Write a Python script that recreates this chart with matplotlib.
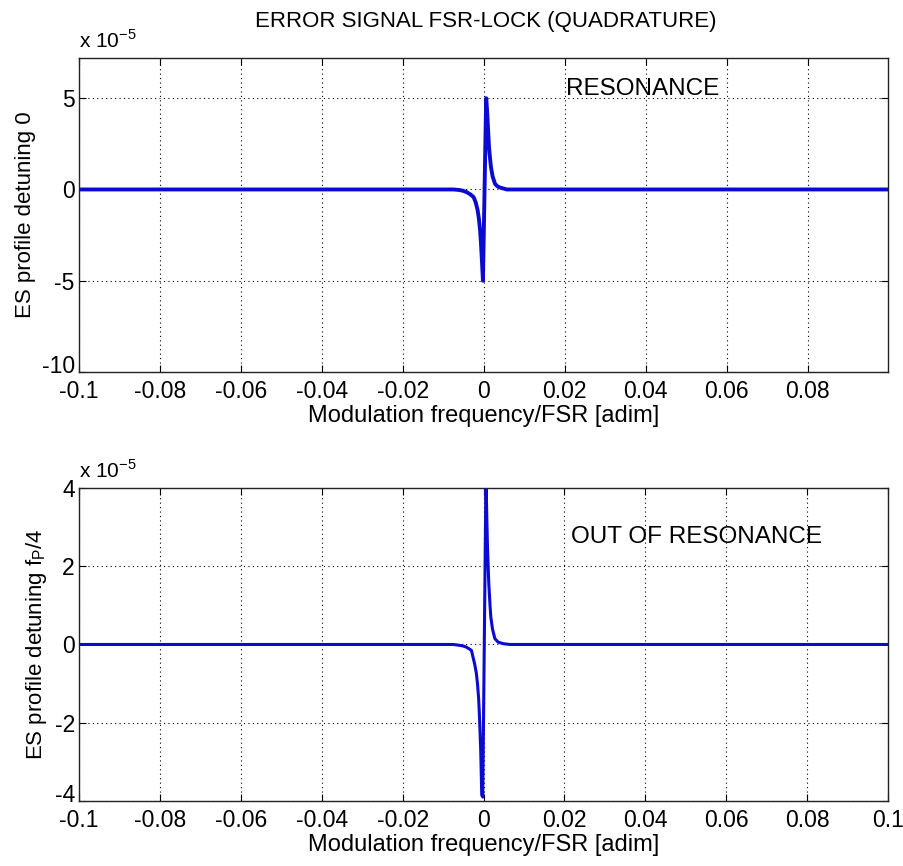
import numpy as np
import matplotlib.pyplot as plt
import matplotlib.transforms as mtransforms

plt.rcParams['font.family'] = ['Liberation Sans', 'DejaVu Sans']
plt.rcParams['mathtext.fontset'] = 'custom'
plt.rcParams['mathtext.rm'] = 'Liberation Sans'

# === Data (y in units of 1e-5) ===
x_res = [-0.1, -0.0075, -0.006, -0.005, -0.0042, -0.0033, -0.0025, -0.002,
         -0.0015, -0.0012, -0.0009, -0.0007, -0.00045, -0.0002,
         0.0006, 0.0008, 0.00095, 0.0013, 0.0016, 0.0018, 0.0022, 0.0028,
         0.0034, 0.0041, 0.0057, 0.0999]
y_res = [0.0, 0.0, -0.03, -0.08, -0.15, -0.27, -0.42, -0.7,
         -1.15, -1.6, -2.25, -2.9, -3.9, -5.0,
         5.0, 4.4, 3.8, 2.3, 1.6, 1.2, 0.7, 0.3,
         0.17, 0.1, 0.0, 0.0]

x_out = [-0.1, -0.0075, -0.006, -0.005, -0.0042, -0.003, -0.0022, -0.0018,
         -0.0015, -0.0012, -0.001, -0.0007, -0.00045, -0.0002,
         0.0006, 0.0008, 0.001, 0.0013, 0.0016, 0.0018, 0.0022, 0.0028,
         0.0036, 0.0049, 0.0065, 0.1]
y_out = [0.0, 0.0, -0.02, -0.04, -0.07, -0.15, -0.5, -0.72,
         -1.0, -1.4, -1.86, -2.7, -3.85, -3.9,
         4.3, 3.25, 2.4, 1.55, 1.0, 0.7, 0.4, 0.15,
         0.06, 0.02, 0.0, 0.0]

xticks_top = [-0.1, -0.08, -0.06, -0.04, -0.02, 0, 0.02, 0.04, 0.06, 0.08]
xticks_bot = [-0.1, -0.08, -0.06, -0.04, -0.02, 0, 0.02, 0.04, 0.06, 0.08, 0.1]
xticklabels_top = ['-0.1', '-0.08', '-0.06', '-0.04', '-0.02', '0', '0.02', '0.04', '0.06', '0.08']
xticklabels_bot = xticklabels_top + ['0.1']
yticks_top = [-10, -5, 0, 5]
yticks_bot = [-4, -2, 0, 2, 4]

line_col = '#0a0ad2'
fs = 16

fig = plt.figure(figsize=(9.04, 8.66), dpi=100)
ax1 = fig.add_axes([0.0874, 0.5704, 0.895, 0.3626])
ax2 = fig.add_axes([0.0874, 0.0751, 0.895, 0.3614])


def style(ax, xt, xtl, yt):
    ax.set_xticks(xt)
    ax.set_xticklabels(xtl)
    ax.set_yticks(yt)
    ax.set_yticklabels([str(v) for v in yt])
    ax.tick_params(direction='in', top=True, right=True, labelsize=fs + 0.5,
                   length=5, width=0.8)
    ax.tick_params(axis='x', pad=6)
    ax.tick_params(axis='y', pad=3)
    ax.grid(True, color='k', linestyle=(0, (1, 3)), linewidth=0.8)
    for s in ax.spines.values():
        s.set_color('#222222')
        s.set_linewidth(1.0)
    ax.set_xlabel('Modulation frequency/FSR [adim]', fontsize=fs + 1, labelpad=1)
    ax.text(0.0, 1.02, r'x 10$^{-5}$', transform=ax.transAxes, fontsize=fs - 1,
            ha='left', va='bottom')
    # lowest y label sits a bit higher, as in the reference
    low = ax.get_yticklabels()[0]
    low.set_transform(low.get_transform() +
                      mtransforms.ScaledTranslation(0, 6 / 72, fig.dpi_scale_trans))


# --- top: at resonance ---
ax1.plot(x_res, y_res, color=line_col, linewidth=2.8)
ax1.set_xlim(-0.1, 0.0999)
ax1.set_ylim(-10, 7.2)
style(ax1, xticks_top, xticklabels_top, yticks_top)
ax1.set_ylabel('ES profile detuning 0', fontsize=fs, labelpad=4)
ax1.text(0.0202, 5.5, 'RESONANCE', fontsize=fs + 1.5, ha='left', va='center')
fig.text(0.537, 0.975, 'ERROR SIGNAL FSR-LOCK (QUADRATURE)', fontsize=fs,
         ha='center', va='center')

# --- bottom: out of resonance ---
ax2.plot(x_out, y_out, color=line_col, linewidth=2.2)
ax2.set_xlim(-0.1, 0.1)
ax2.set_ylim(-4, 4)
style(ax2, xticks_bot, xticklabels_bot, yticks_bot)
ax2.set_ylabel(r'ES profile detuning f$_\mathrm{P}$/4', fontsize=fs, labelpad=4)
ax2.text(0.0215, 2.74, 'OUT OF RESONANCE', fontsize=fs + 1.5, ha='left', va='center')

fig.savefig('out.png', dpi=100)
